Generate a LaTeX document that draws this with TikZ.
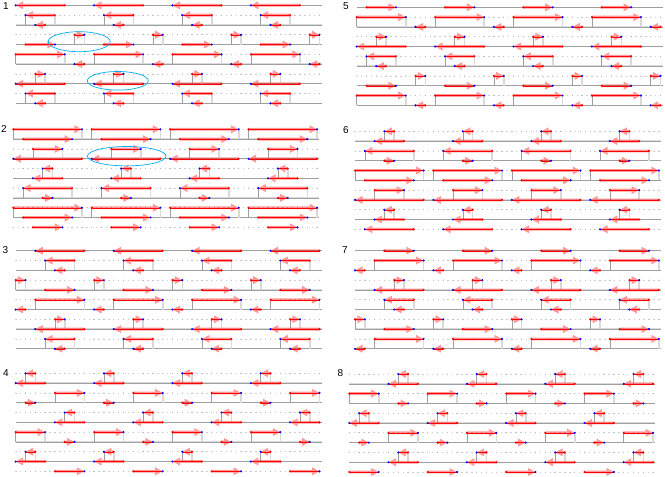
\documentclass[tikz,border=0pt]{standalone}
\usepackage{fontspec}
\setmainfont{Liberation Sans}
\tikzset{
  solidunder/.style={draw=gray!28, line width=1.4pt},
  solidrow/.style={draw=gray!75, line width=0.6pt},
  dotrow/.style={draw=gray!40, line width=0.7pt, dash pattern=on 1.4pt off 3.5pt, dash phase=0.7pt},
  tickdot/.style={fill=gray!75},
  darkv/.style={draw=gray!75, line width=0.6pt},
  lightv/.style={draw=gray!30, line width=1.6pt},
  redline/.style={draw=red, line width=0.35pt},
  arrowfill/.style={fill=red, fill opacity=0.4},
  reddot/.style={fill=red},
  bluedot/.style={fill=blue},
  cyanell/.style={draw=cyan, line width=0.7pt},
  plabel/.style={font=\fontsize{10}{10}\selectfont, inner sep=0pt}
}
\newcommand\mypanel[4]{%
  \foreach \rr/\bb [count=\ii from 0] in {#4} {
    \pgfmathsetmacro\yy{#2+9.8*\ii}
    \pgfmathtruncatemacro\dt{mod(\ii+#3,2)}
    \ifnum\dt=1
      \draw[dotrow] (#1,\yy) -- (#1+305.8,\yy);
      \foreach \c in {0,...,31} \fill[tickdot] (#1+9.8*\c,\yy) circle (0.45pt);
    \else
      \draw[solidunder] (#1,\yy) -- (#1+305.8,\yy);
      \draw[solidrow] (#1,\yy) -- (#1+305.8,\yy);
    \fi
  }
  \foreach \rr/\bb [count=\ii from 0] in {#4} {
    \pgfmathtruncatemacro\dt{mod(\ii+#3,2)}
    \ifnum\dt=1 \ifnum\ii<10
      \pgfmathsetmacro\yy{#2+9.8*\ii}
      \pgfmathtruncatemacro\lo{min(\rr,\bb)}
      \pgfmathtruncatemacro\hi{max(\rr,\bb)}
      \foreach \k in {0,1,2,3} {
        \draw[lightv] (#1+78.4*\k+9.8*\hi,\yy) -- ++(0,9.8);
        \draw[darkv] (#1+78.4*\k+9.8*\lo,\yy) -- ++(0,9.8);
      }
    \fi\fi
  }
  \foreach \rr/\bb [count=\ii from 0] in {#4} {
    \pgfmathsetmacro\yy{#2+9.8*\ii}
    \pgfmathsetmacro\dd{sign(\bb-\rr)}
    \foreach \k in {0,1,2,3} {
      \pgfmathsetmacro\xa{#1+78.4*\k+9.8*\rr}
      \pgfmathsetmacro\xb{#1+78.4*\k+9.8*\bb}
      \pgfmathsetmacro\xh{\xb-\dd*7.5}
      \draw[redline] (\xa,\yy) -- (\xb,\yy);
      \fill[arrowfill] (\xa,\yy-1.4) -- (\xh,\yy-1.4) -- (\xh,\yy-4) -- (\xb,\yy) -- (\xh,\yy+4) -- (\xh,\yy+1.4) -- (\xa,\yy+1.4) -- cycle;
      \fill[reddot] (\xa,\yy) circle (1.2pt);
      \fill[bluedot] (\xb,\yy) circle (1.2pt);
    }
  }
}
\begin{document}
\begin{tikzpicture}[x=1pt,y=-1pt]
\useasboundingbox (0,0) rectangle (665,477);
\mypanel{15.7}{5.3}{0}{5/0,4/1,3/2,6/7,1/4,0/5,7/6,2/3,5/0,4/1,3/2}
\mypanel{13.3}{129.3}{1}{0/7,1/6,2/5,7/0,4/3,5/2,6/1,3/4,0/7,1/6,2/5}
\mypanel{15.7}{250.7}{0}{7/2,6/3,5/4,0/1,3/6,2/7,1/0,4/5,7/2,6/3,5/4}
\mypanel{15.7}{373.3}{1}{2/1,3/0,4/7,1/2,6/5,7/4,0/3,5/6,2/1,3/0,4/7}
\mypanel{356.7}{7.3}{0}{1/4,0/5,7/6,2/3,5/0,4/1,3/2,6/7,1/4,0/5,7/6}
\mypanel{355}{131.3}{1}{4/3,5/2,6/1,3/4,0/7,1/6,2/5,7/0,4/3,5/2,6/1}
\mypanel{355}{250.7}{0}{3/6,2/7,1/0,4/5,7/2,6/3,5/4,0/1,3/6,2/7,1/0}
\mypanel{349.3}{374}{1}{6/5,7/4,0/3,5/6,2/1,3/0,4/7,1/2,6/5,7/4,0/3}
\node[plabel] (lab1) at (6,6) {1};
\node[plabel] (lab2) at (4,129.5) {2};
\node[plabel] (lab3) at (5.5,250.5) {3};
\node[plabel] (lab4) at (6,373) {4};
\node[plabel] (lab5) at (346,6.5) {5};
\node[plabel] (lab6) at (346,130.5) {6};
\node[plabel] (lab7) at (345,250.5) {7};
\node[plabel] (lab8) at (340.5,373.5) {8};
\draw[cyanell] (79.2,41.7) ellipse [x radius=31pt, y radius=10pt];
\draw[cyanell] (117.8,80.8) ellipse [x radius=30.5pt, y radius=9.3pt];
\draw[cyanell] (126.7,156.2) ellipse [x radius=39.3pt, y radius=9.7pt];
\end{tikzpicture}
\end{document}
